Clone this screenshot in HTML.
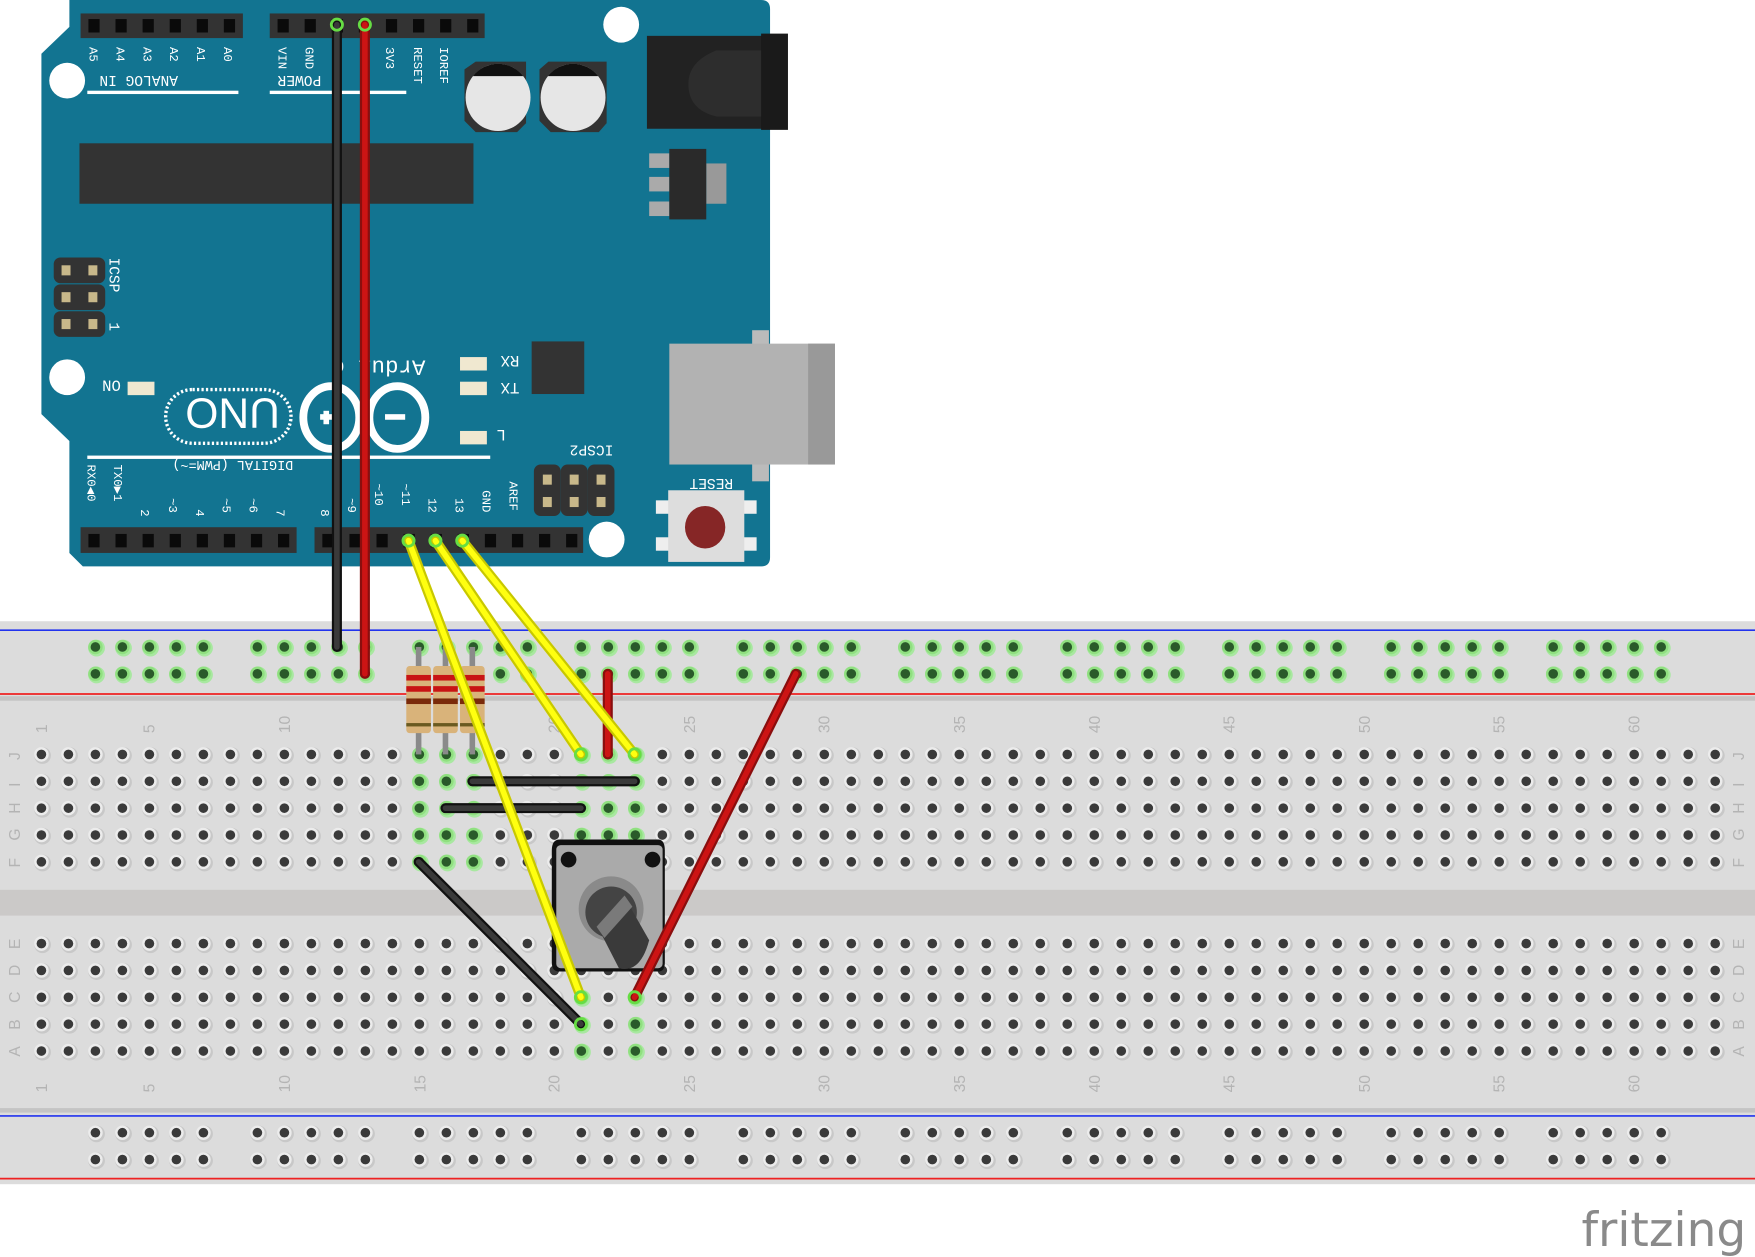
<!DOCTYPE html>
<html><head><meta charset="utf-8"><style>html,body{margin:0;padding:0;background:#fff;overflow:hidden}svg{display:block}</style></head><body>
<svg id="s" width="1755" height="1257" viewBox="0 0 1568 1123" xmlns="http://www.w3.org/2000/svg" font-family="Liberation Mono, monospace">
<!-- breadboard -->
<rect x="0" y="555" width="1568" height="503" fill="#dcdcdc"/>
<rect x="0" y="622" width="1568" height="4" fill="#c4c4c4"/>
<rect x="0" y="795" width="1568" height="23" fill="#cbc9c8"/>
<rect x="0" y="990" width="1568" height="4" fill="#c4c4c4"/>
<line x1="0" y1="563" x2="1568" y2="563" stroke="#2233ee" stroke-width="1.5"/>
<line x1="0" y1="620" x2="1568" y2="620" stroke="#ee2222" stroke-width="1.5"/>
<line x1="0" y1="997" x2="1568" y2="997" stroke="#2233ee" stroke-width="1.5"/>
<line x1="0" y1="1053" x2="1568" y2="1053" stroke="#ee2222" stroke-width="1.5"/>
<g id="holes"></g>
<g fill="#b4b4b4" font-family="Liberation Sans, sans-serif" font-size="14">
<text transform="translate(42,655) rotate(-90)">1</text><text transform="translate(138,655) rotate(-90)">5</text><text transform="translate(259,655) rotate(-90)">10</text><text transform="translate(380,655) rotate(-90)">15</text><text transform="translate(500,655) rotate(-90)">20</text><text transform="translate(621,655) rotate(-90)">25</text><text transform="translate(741,655) rotate(-90)">30</text><text transform="translate(862,655) rotate(-90)">35</text><text transform="translate(983,655) rotate(-90)">40</text><text transform="translate(1103,655) rotate(-90)">45</text><text transform="translate(1224,655) rotate(-90)">50</text><text transform="translate(1344,655) rotate(-90)">55</text><text transform="translate(1465,655) rotate(-90)">60</text>
<text transform="translate(42,976) rotate(-90)">1</text><text transform="translate(138,976) rotate(-90)">5</text><text transform="translate(259,976) rotate(-90)">10</text><text transform="translate(380,976) rotate(-90)">15</text><text transform="translate(500,976) rotate(-90)">20</text><text transform="translate(621,976) rotate(-90)">25</text><text transform="translate(741,976) rotate(-90)">30</text><text transform="translate(862,976) rotate(-90)">35</text><text transform="translate(983,976) rotate(-90)">40</text><text transform="translate(1103,976) rotate(-90)">45</text><text transform="translate(1224,976) rotate(-90)">50</text><text transform="translate(1344,976) rotate(-90)">55</text><text transform="translate(1465,976) rotate(-90)">60</text>
<text transform="translate(18,679) rotate(-90)">J</text><text transform="translate(18,703) rotate(-90)">I</text><text transform="translate(18,727) rotate(-90)">H</text><text transform="translate(18,751) rotate(-90)">G</text><text transform="translate(18,775) rotate(-90)">F</text><text transform="translate(18,848) rotate(-90)">E</text><text transform="translate(18,872) rotate(-90)">D</text><text transform="translate(18,896) rotate(-90)">C</text><text transform="translate(18,920) rotate(-90)">B</text><text transform="translate(18,944) rotate(-90)">A</text>
<text transform="translate(1558,679) rotate(-90)">J</text><text transform="translate(1558,703) rotate(-90)">I</text><text transform="translate(1558,727) rotate(-90)">H</text><text transform="translate(1558,751) rotate(-90)">G</text><text transform="translate(1558,775) rotate(-90)">F</text><text transform="translate(1558,848) rotate(-90)">E</text><text transform="translate(1558,872) rotate(-90)">D</text><text transform="translate(1558,896) rotate(-90)">C</text><text transform="translate(1558,920) rotate(-90)">B</text><text transform="translate(1558,944) rotate(-90)">A</text>
</g>
<!-- arduino -->
<path d="M62 0 H680 Q688 0 688 8 V498 Q688 506 680 506 H74 L62 494 V394 L37 370 V48 L62 24 Z" fill="#127491"/>
<rect x="72" y="12" width="145" height="22" fill="#333"/>
<rect x="241" y="12" width="192" height="22" fill="#333"/>
<rect x="72" y="471" width="193" height="23" fill="#333"/>
<rect x="281" y="471" width="240" height="23" fill="#333"/>
<g id="pins"></g>
<g fill="#fff" font-size="11">
<text transform="translate(80,42) rotate(90)">A5</text><text transform="translate(104,42) rotate(90)">A4</text><text transform="translate(128,42) rotate(90)">A3</text><text transform="translate(152,42) rotate(90)">A2</text><text transform="translate(176,42) rotate(90)">A1</text><text transform="translate(200,42) rotate(90)">A0</text>
<text transform="translate(249,42) rotate(90)">VIN</text><text transform="translate(273,42) rotate(90)">GND</text><text transform="translate(345,42) rotate(90)">3V3</text><text transform="translate(370,42) rotate(90)">RESET</text><text transform="translate(393,42) rotate(90)">IOREF</text>
<text transform="translate(159,68) rotate(180)" font-size="13">ANALOG IN</text>
<text transform="translate(287,68) rotate(180)" font-size="13">POWER</text>
<text transform="translate(98,230) rotate(90)" font-size="13">ICSP</text>
<text transform="translate(98,288) rotate(90)" font-size="13">1</text>
<text transform="translate(108,340) rotate(180)" font-size="14">ON</text>
<text transform="translate(464,318) rotate(180)" font-size="14">RX</text>
<text transform="translate(464,342) rotate(180)" font-size="14">TX</text>
<text transform="translate(452,384) rotate(180)" font-size="14">L</text>
<text transform="translate(548,398) rotate(180)" font-size="13">ICSP2</text>
<text transform="translate(655,428) rotate(180)" font-size="13">RESET</text>
<text transform="translate(380,322) rotate(180)" font-size="20">Ardui o</text>
<text transform="translate(262,412) rotate(180)" font-size="12">DIGITAL (PWM=~)</text>
<text transform="translate(78,415) rotate(90)">RX0◀0</text><text transform="translate(102,415) rotate(90)">TX0▶1</text>
<text transform="translate(126,455) rotate(90)">2</text><text transform="translate(151,445) rotate(90)">~3</text><text transform="translate(175,455) rotate(90)">4</text><text transform="translate(199,445) rotate(90)">~5</text><text transform="translate(223,445) rotate(90)">~6</text><text transform="translate(247,455) rotate(90)">7</text>
<text transform="translate(287,455) rotate(90)">8</text><text transform="translate(311,445) rotate(90)">~9</text><text transform="translate(335,432) rotate(90)">~10</text><text transform="translate(359,432) rotate(90)">~11</text><text transform="translate(383,445) rotate(90)">12</text><text transform="translate(407,445) rotate(90)">13</text><text transform="translate(431,438) rotate(90)">GND</text><text transform="translate(455,430) rotate(90)">AREF</text>
</g>
<rect x="78" y="81" width="135" height="3" fill="#fff"/><rect x="241" y="81" width="122" height="3" fill="#fff"/>
<rect x="78" y="407" width="360" height="3" fill="#fff"/>
<rect x="71" y="128" width="352" height="54" fill="#333"/>
<g fill="#fff"><circle cx="555" cy="22" r="16"/><circle cx="60" cy="72" r="16"/><circle cx="60" cy="337" r="16"/><circle cx="542" cy="482" r="16"/></g>
<!-- caps -->
<path d="M415 62 L425 55 H470 V110 L462 118 H425 L415 108 Z" fill="#333"/>
<ellipse cx="445" cy="87" rx="29" ry="30" fill="#e6e6e6"/><path d="M422.5 68 A29 30 0 0 1 467.5 68 Z" fill="#111"/>
<path d="M482 62 L490 55 H542 V110 L535 118 H492 L482 108 Z" fill="#333"/>
<ellipse cx="512" cy="87" rx="29" ry="30" fill="#e6e6e6"/><path d="M489.5 68 A29 30 0 0 1 534.5 68 Z" fill="#111"/>
<!-- jack -->
<rect x="578" y="32" width="125" height="83" fill="#222"/><rect x="680" y="30" width="24" height="86" fill="#1a1a1a"/>
<path d="M680 45 H640 Q615 55 615 75 Q615 98 640 104 H680 Z" fill="#2d2d2d"/>
<!-- regulator -->
<rect x="580" y="137" width="18" height="13" fill="#aaa"/><rect x="580" y="158" width="18" height="13" fill="#aaa"/><rect x="580" y="180" width="18" height="13" fill="#aaa"/>
<rect x="631" y="146" width="18" height="36" fill="#999"/><rect x="598" y="133" width="33" height="63" fill="#2a2a2a"/>
<!-- ICSP left -->
<g fill="#333"><rect x="48" y="230" width="46" height="23" rx="6"/><rect x="48" y="254" width="46" height="23" rx="6"/><rect x="48" y="278" width="46" height="23" rx="6"/></g>
<g fill="#c8b88a"><rect x="55" y="237" width="8" height="9"/><rect x="79" y="237" width="8" height="9"/><rect x="55" y="261" width="8" height="9"/><rect x="79" y="261" width="8" height="9"/><rect x="55" y="285" width="8" height="9"/><rect x="79" y="285" width="8" height="9"/></g>
<g fill="#333"><rect x="477" y="415" width="24" height="46" rx="6"/><rect x="501" y="415" width="24" height="46" rx="6"/><rect x="525" y="415" width="24" height="46" rx="6"/></g>
<g fill="#c8b88a"><rect x="485" y="424" width="8" height="9"/><rect x="509" y="424" width="8" height="9"/><rect x="533" y="424" width="8" height="9"/><rect x="485" y="444" width="8" height="9"/><rect x="509" y="444" width="8" height="9"/><rect x="533" y="444" width="8" height="9"/></g>
<rect x="475" y="305" width="47" height="47" fill="#333"/>
<g fill="#f0e8d0"><rect x="411" y="319" width="24" height="12"/><rect x="411" y="341" width="24" height="12"/><rect x="411" y="385" width="24" height="12"/><rect x="114" y="341" width="24" height="12"/></g>
<!-- UNO logo -->
<rect x="148" y="348" width="112" height="48" rx="24" fill="none" stroke="#fff" stroke-width="3" stroke-dasharray="2 2"/>
<text x="158" y="388" fill="#fff" font-family="Liberation Sans, sans-serif" font-size="38" transform="rotate(180 204 372)">UNO</text>
<ellipse cx="296" cy="373" rx="25" ry="28" fill="none" stroke="#fff" stroke-width="7"/>
<ellipse cx="355" cy="373" rx="25" ry="28" fill="none" stroke="#fff" stroke-width="7"/>
<rect x="286" y="370" width="12" height="5" fill="#fff"/><rect x="289" y="367" width="5" height="12" fill="#fff"/>
<rect x="344" y="370" width="18" height="5" fill="#fff"/>
<!-- USB -->
<rect x="672" y="295" width="15" height="135" fill="#bbb"/>
<rect x="598" y="307" width="148" height="108" fill="#b2b2b2"/><rect x="722" y="307" width="24" height="108" fill="#999"/>
<!-- reset -->
<rect x="586" y="447" width="90" height="12" fill="#eee"/><rect x="586" y="480" width="90" height="12" fill="#eee"/>
<rect x="597" y="438" width="68" height="64" fill="#ddd"/>
<ellipse cx="630" cy="471" rx="18" ry="19" fill="#862626"/>
<!-- resistors -->
<g id="res"></g>
<!-- potentiometer -->
<path d="M500 750 H588 Q594 750 594 760 V860 Q594 868 588 868 H500 Q493 868 493 860 V760 Q493 750 500 750 Z" fill="#111"/>
<rect x="497" y="755" width="95" height="110" rx="4" fill="#aaa"/>
<circle cx="508" cy="768" r="7" fill="#111"/><circle cx="583" cy="768" r="7" fill="#111"/>
<circle cx="546" cy="812" r="29" fill="#8a8a8a"/>
<circle cx="546" cy="815" r="23" fill="#444"/>
<path d="M535 830 L553 865 Q572 870 580 840 L560 805 Z" fill="#3a3a3a"/>
<path d="M533 828 L558 800 L565 810 L540 838 Z" fill="#7a7a7a"/>
<!-- wires -->
<g stroke-linecap="round" fill="none">
<g stroke="#111" stroke-width="9"><line x1="301" y1="22" x2="301" y2="578"/><line x1="422" y1="698" x2="567" y2="698"/><line x1="398" y1="722" x2="519" y2="722"/><line x1="374" y1="770" x2="519" y2="915"/></g>
<g stroke="#3a3a3a" stroke-width="5"><line x1="301" y1="22" x2="301" y2="578"/><line x1="422" y1="698" x2="567" y2="698"/><line x1="398" y1="722" x2="519" y2="722"/><line x1="374" y1="770" x2="519" y2="915"/></g>
<g stroke="#8a0e0e" stroke-width="9"><line x1="326" y1="22" x2="326" y2="602"/><line x1="543" y1="602" x2="543" y2="674"/><line x1="711" y1="602" x2="567" y2="891"/></g>
<g stroke="#cc1414" stroke-width="5"><line x1="326" y1="22" x2="326" y2="602"/><line x1="543" y1="602" x2="543" y2="674"/><line x1="711" y1="602" x2="567" y2="891"/></g>
<g stroke="#c8c800" stroke-width="9"><line x1="365" y1="483" x2="519" y2="891"/><line x1="389" y1="483" x2="519" y2="674"/><line x1="413" y1="483" x2="567" y2="674"/></g>
<g stroke="#ffff10" stroke-width="5"><line x1="365" y1="483" x2="519" y2="891"/><line x1="389" y1="483" x2="519" y2="674"/><line x1="413" y1="483" x2="567" y2="674"/></g>
</g>
<g fill="none" stroke="#66dd44" stroke-width="2.5"><circle cx="365" cy="483" r="5"/><circle cx="389" cy="483" r="5"/><circle cx="413" cy="483" r="5"/><circle cx="519" cy="674" r="5"/><circle cx="567" cy="674" r="5"/><circle cx="519" cy="891" r="5"/><circle cx="567" cy="891" r="5"/><circle cx="519" cy="915" r="5"/><circle cx="301" cy="22" r="5"/><circle cx="326" cy="22" r="5"/></g>
<text x="1413" y="1113" fill="#8a8a8a" font-family="DejaVu Sans, sans-serif" font-size="42">fritzing</text>
</svg>
<script>
var NS="http://www.w3.org/2000/svg",H=document.getElementById("holes"),P=document.getElementById("pins"),R=document.getElementById("res");
function el(p,t,a){var e=document.createElementNS(NS,t);for(var k in a)e.setAttribute(k,a[k]);p.appendChild(e);return e;}
function hole(x,y,g){el(H,"circle",{cx:x+1,cy:y+1,r:7.5,fill:g?"#a8e8a0":"#c8c8c8"});el(H,"circle",{cx:x,cy:y,r:6.5,fill:g?"#90e080":"#ececec"});el(H,"circle",{cx:x,cy:y,r:4.3,fill:g?"#2a5a2a":"#3a3a3a"});}
function cx(c){return 37+(c-1)*24.12;}
var rows={J:674,I:698,H:722,G:746,F:770,E:843,D:867,C:891,B:915,A:939};
var green={15:"JIHGF",16:"JIHGF",17:"JIHGF",21:"JIHGCBA",22:"JIHG",23:"JIHGCBA"};
for(var c=1;c<=63;c++){for(var r in rows){hole(cx(c),rows[r],green[c]&&green[c].indexOf(r)>=0);}}
for(var g=0;g<10;g++){for(var i=0;i<5;i++){var x=cx(3+g*6+i);hole(x,578,true);hole(x,602,true);hole(x,1012,false);hole(x,1036,false);}}
function pin(x,y){el(P,"rect",{x:x-5,y:y-6,width:10,height:12,fill:"#0a0a0a"});}
for(var i=0;i<6;i++)pin(84+i*24.2,23);for(var i=0;i<8;i++)pin(253+i*24.2,23);
for(var i=0;i<8;i++)pin(84+i*24.2,483);for(var i=0;i<10;i++)pin(293+i*24.2,483);
[374,398,422].forEach(function(x){el(R,"rect",{x:x-2.5,y:578,width:5,height:96,fill:"#8a8a8a"});el(R,"rect",{x:x-11,y:595,width:22,height:60,rx:3,fill:"#d9b37a"});
[[603,5,"#c81414"],[613,5,"#c81414"],[624,5,"#7a2a0a"],[646,3,"#6a5a20"]].forEach(function(b){el(R,"rect",{x:x-11,y:b[0],width:22,height:b[1],fill:b[2]});});});
</script>
</body></html>
